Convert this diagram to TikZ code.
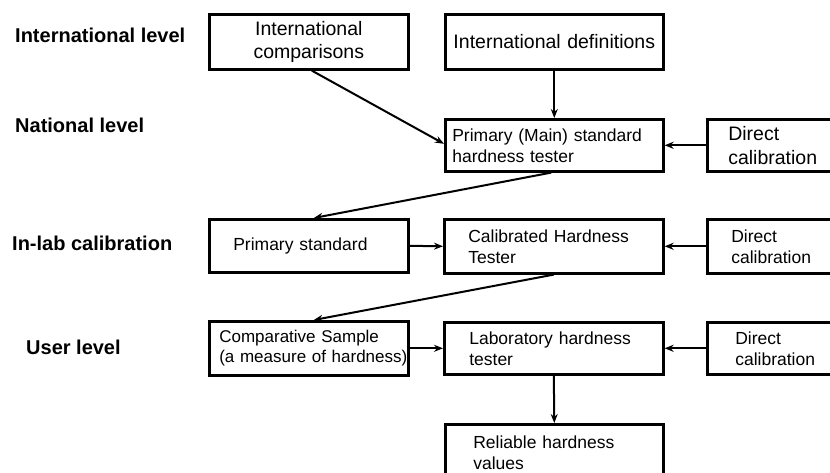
\documentclass[tikz,border=0pt]{standalone}
\usepackage{fontspec}
\setmainfont{Liberation Sans}
\usetikzlibrary{arrows.meta}
\begin{document}
\begin{tikzpicture}[x=1pt,y=-1pt,
  box/.style={draw, line width=2.6pt, rectangle, anchor=north west, inner ysep=0pt, align=left,
    font=\fontsize{17.5}{21}\selectfont},
  bigtxt/.style={font=\fontsize{19.5}{23.5}\selectfont},
  lvl/.style={anchor=base west, inner sep=0pt, font=\fontsize{20}{24}\selectfont\bfseries},
  conn/.style={line width=2pt, -{Stealth[length=9pt,width=7pt]}},
]
\useasboundingbox (0,0) rectangle (830,473);
\clip (0,0) rectangle (830,473);
\fill[white] (0,0) rectangle (830,473);

% level labels
\node[lvl] (l1) at (15,42.7) {International level};
\node[lvl] (l2) at (15,133) {National level};
\node[lvl] (l3) at (12,250.7) {In-lab calibration};
\node[lvl] (l4) at (26,354) {User level};

% boxes
\node[box, bigtxt, align=center, minimum width=199pt, minimum height=55pt, text width=189pt, inner xsep=5pt] (ic) at (208,13) {International\\comparisons};
\node[box, bigtxt, align=center, minimum width=218pt, minimum height=55pt, text width=208pt, inner xsep=5pt] (idf) at (444,13) {International definitions};
\node[box, minimum width=218pt, minimum height=52pt, text width=204pt, inner xsep=7pt] (pm) at (444,118) {Primary (Main) standard\\hardness tester};
\node[box, bigtxt, minimum width=150pt, minimum height=52pt, text width=108pt, inner xsep=21pt] (dc1) at (706,118) {Direct\\calibration};

\node[box, minimum width=199pt, minimum height=53pt, text width=151pt, inner xsep=24pt] (ps) at (208,218) {Primary standard};
\node[box, minimum width=219pt, minimum height=54pt, text width=171pt, inner xsep=24pt] (cal) at (443,218) {Calibrated Hardness\\Tester};
\node[box, minimum width=150pt, minimum height=54pt, text width=102pt, inner xsep=24pt] (dc2) at (706,218) {Direct\\calibration};

\node[box, font=\fontsize{17}{20.5}\selectfont, minimum width=199pt, minimum height=54pt, text width=179pt, inner xsep=10pt] (cs) at (208,320) {Comparative Sample\\\mbox{(a measure of hardness)}};
\node[box, minimum width=219pt, minimum height=52pt, text width=169pt, inner xsep=25pt] (lab) at (443,321) {Laboratory hardness\\tester};
\node[box, minimum width=150pt, minimum height=52pt, text width=94pt, inner xsep=28pt] (dc3) at (706,321) {Direct\\calibration};

\node[box, minimum width=218pt, minimum height=56pt, text width=162pt, inner xsep=28pt] (rel) at (444,423) {Reliable hardness\\values};

% connectors
\draw[conn] ([xshift=3pt]ic.south) -- ([yshift=1.5pt]pm.west);
\draw[conn] (idf.south) -- (pm.north);
\draw[conn] (dc1.west) -- (pm.east);
\draw[conn] ([xshift=-3pt]pm.south) -- ([xshift=5pt]ps.north);
\draw[conn] (ps.east) -- (cal.west);
\draw[conn] (dc2.west) -- (cal.east);
\draw[conn] (cal.south) -- ([xshift=5pt]cs.north);
\draw[conn] (cs.east) -- (lab.west);
\draw[conn] (dc3.west) -- (lab.east);
\draw[conn] (lab.south) -- (rel.north);
\end{tikzpicture}
\end{document}
